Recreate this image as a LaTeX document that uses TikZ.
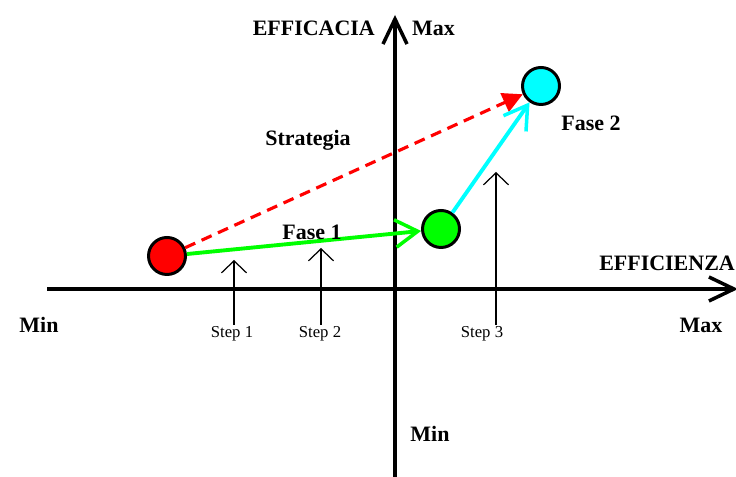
\documentclass[tikz,border=0pt]{standalone}
\usepackage{fontspec}
\setmainfont{Liberation Serif}
\usepackage{xcolor}
\usepackage{tikz}
\usetikzlibrary{arrows.meta}
\definecolor{fasegreen}{RGB}{0,255,0}
\definecolor{fasecyan}{RGB}{0,255,255}
\definecolor{stratred}{RGB}{255,0,0}

\begin{document}
\begin{tikzpicture}[
        axis/.style={line width=2.5pt, -{Straight Barb[length=5mm, width=4.8mm, line width=2pt]}},
        dot/.style={circle, draw, line width=1.7pt, minimum size=0.74cm, inner sep=0pt},
        lbl/.style={font=\fontsize{12.5}{14}\selectfont\bfseries},
        steplbl/.style={font=\fontsize{9.5}{11}\selectfont, inner sep=1pt},
        steparr/.style={line width=0.7pt, -{Straight Barb[length=2.4mm, width=5mm]}},
        fase/.style={line width=2.2pt, -{Straight Barb[length=4.5mm, width=5.5mm, line width=2pt]}},
        strat/.style={line width=1.8pt, stratred, dash pattern=on 2.2mm off 1.4mm,
                      -{Triangle[length=4mm, width=4mm]}}
    ]
        \useasboundingbox (0,0) rectangle (14.72,9.54);
        % axes
        \coordinate (xl) at (0.94, 3.76);
        \coordinate (xr) at (14.76, 3.76);
        \coordinate (yb) at (7.9, 0);
        \coordinate (yt) at (7.9, 9.24);
        \draw[axis] (xl) -- (xr);
        \draw[axis] (yb) -- (yt);
        \node[lbl, anchor=east] (effic)  at (7.62, 8.98) {EFFICACIA};
        \node[lbl, anchor=west] (ymax)   at (8.12, 8.98) {Max};
        \node[lbl, anchor=east, inner sep=0.5pt] (effz) at (14.72, 4.28) {EFFICIENZA};
        \node[lbl] (xmax) at (14.02, 3.04) {Max};
        \node[lbl] (xmin) at (0.78, 3.04) {Min};
        \node[lbl] (ymin) at (8.6, 0.86) {Min};
        % phases
        \node[dot, fill=stratred]  (start) at (3.34, 4.42) {};
        \node[dot, fill=fasegreen] (f1)    at (8.82, 4.96) {};
        \node[dot, fill=fasecyan]  (f2)    at (10.82, 7.82) {};
        \draw[strat] (start) -- (f2);
        \draw[fase, fasegreen] (start) -- (f1);
        \draw[fase, fasecyan] (f1) -- (f2);
        \node[lbl] (strlbl) at (6.16, 6.74) {Strategia};
        \node[lbl] (f1lbl)  at (6.24, 4.9) {Fase 1};
        \node[lbl] (f2lbl)  at (11.82, 7.08) {Fase 2};
        % steps
        \node[steplbl] (s1) at (4.64, 2.86) {Step 1};
        \node[steplbl] (s2) at (6.4, 2.86) {Step 2};
        \node[steplbl] (s3) at (9.64, 2.86) {Step 3};
        \coordinate (t1) at (4.68, 4.34);
        \coordinate (t2) at (6.42, 4.58);
        \coordinate (t3) at (9.92, 6.1);
        \draw[steparr] (s1.north -| t1) -- (t1);
        \draw[steparr] (s2.north -| t2) -- (t2);
        \draw[steparr] (s3.north -| t3) -- (t3);
    \end{tikzpicture}
\end{document}
